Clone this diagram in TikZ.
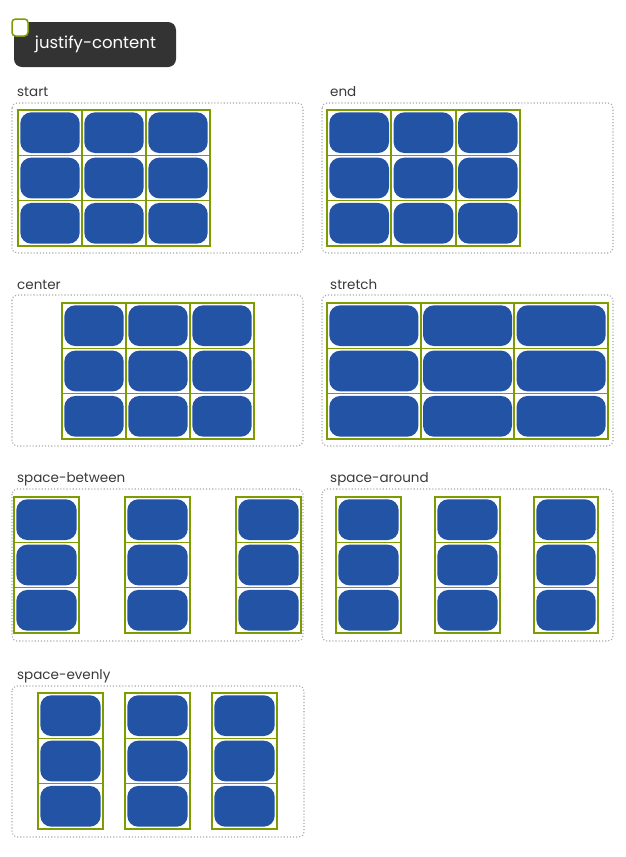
\documentclass[tikz,border=0pt]{standalone}
\usepackage{fontspec}
\setmainfont{Poppins}
\definecolor{jgreen}{HTML}{7C9C02}
\definecolor{jblue}{HTML}{2353A5}
\definecolor{jdots}{HTML}{A8A8A8}
\definecolor{jdark}{HTML}{333333}
\definecolor{jtext}{HTML}{3A3A3A}
\newcommand{\jcol}[4]{%
  \pgfmathsetmacro\jhh{(#4-#3)/3}%
  \foreach \jr in {0,1,2}{%
    \pgfmathsetmacro\jya{#3+\jr*\jhh}%
    \pgfmathsetmacro\jyb{#3+(\jr+1)*\jhh}%
    \fill[item] (#1+2.3,\jya+2.3) rectangle (#2-2.3,\jyb-2.3);
    \draw[cell] (#1,\jya) rectangle (#2,\jyb);
  }%
  \draw[cell,line width=2pt] (#1,#3) rectangle (#2,#4);
}
\begin{document}
\begin{tikzpicture}[x=1pt,y=-1pt,
  item/.style={fill=jblue,rounded corners=11pt},
  cell/.style={draw=jgreen,line width=1.6pt},
  dotbox/.style={draw=jdots,line width=1.1pt,dash pattern=on 1.1pt off 2pt,rounded corners=5pt},
  lab/.style={anchor=base west,inner sep=0pt,text=jtext,font=\fontsize{13.5}{16}\selectfont}]
\useasboundingbox[fill=white] (0,0) rectangle (625,857);
% title
\fill[jdark,rounded corners=8pt] (14,22) rectangle (176,67);
\node[text=white,font=\fontsize{16.5}{20}\selectfont,inner sep=0pt] (title) at (95.5,44) {justify-content};
\draw[jgreen,fill=white,line width=1.5pt,rounded corners=3.5pt] (12,19) rectangle (28,36);
% start
\node[lab] (lstart) at (17,96) {start};
\draw[dotbox] (12,103) rectangle (303,253);
\jcol{18}{82}{110}{246}\jcol{82}{146}{110}{246}\jcol{146}{210}{110}{246}
% end
\node[lab] (lend) at (330,96) {end};
\draw[dotbox] (322,103) rectangle (613,253);
\jcol{327}{391.3}{110}{246}\jcol{391.3}{455.7}{110}{246}\jcol{455.7}{520}{110}{246}
% center
\node[lab] (lcenter) at (17,289) {center};
\draw[dotbox] (12,295) rectangle (303,446);
\jcol{62}{126}{303}{439}\jcol{126}{190}{303}{439}\jcol{190}{254}{303}{439}
% stretch
\node[lab] (lstretch) at (330,289) {stretch};
\draw[dotbox] (322,295) rectangle (613,446);
\jcol{327}{420.7}{303}{439}\jcol{420.7}{514.3}{303}{439}\jcol{514.3}{608}{303}{439}
% space-between
\node[lab] (lbetween) at (17,482) {space-between};
\draw[dotbox] (12,489) rectangle (303,641);
\jcol{14}{79}{497}{633}\jcol{125}{190}{497}{633}\jcol{236}{301}{497}{633}
% space-around
\node[lab] (laround) at (330,482) {space-around};
\draw[dotbox] (322,489) rectangle (613,641);
\jcol{336}{401}{497}{633}\jcol{435}{500}{497}{633}\jcol{534}{598}{497}{633}
% space-evenly
\node[lab] (levenly) at (17,679) {space-evenly};
\draw[dotbox] (12,686) rectangle (304,837);
\jcol{38}{103}{693}{829}\jcol{125}{190}{693}{829}\jcol{212}{277}{693}{829}
\end{tikzpicture}
\end{document}
